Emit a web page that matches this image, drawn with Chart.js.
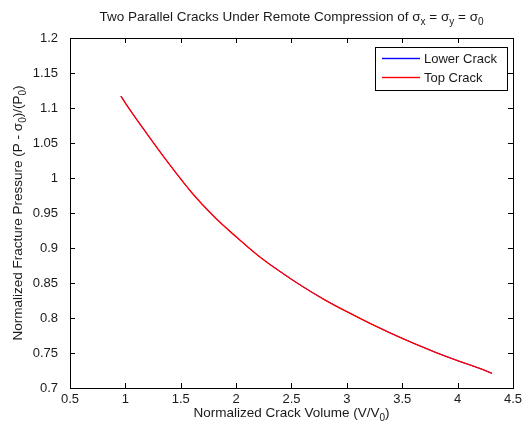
<!DOCTYPE html>
<html>
<head>
<meta charset="utf-8">
<script src="https://cdn.jsdelivr.net/npm/chart.js@4.4.1/dist/chart.umd.min.js"></script>
<style>
  html, body { margin: 0; padding: 0; background: #fff; }
</style>
</head>
<body>
<canvas id="crackChart" width="526" height="432"></canvas>
<script>
// values
const crackVolume = [0.96, 1.0, 1.2, 1.4, 1.6, 1.8, 2.0, 2.2, 2.4, 2.6, 2.8, 3.0, 3.2, 3.4, 3.6, 3.8, 4.0, 4.2, 4.31];
const lowerCrack  = [1.117, 1.107, 1.062, 1.019, 0.979, 0.945, 0.916, 0.889, 0.866, 0.845, 0.826, 0.809, 0.793, 0.778, 0.764, 0.751, 0.739, 0.728, 0.721];
const topCrack    = [1.117, 1.107, 1.062, 1.019, 0.979, 0.945, 0.916, 0.889, 0.866, 0.845, 0.826, 0.809, 0.793, 0.778, 0.764, 0.751, 0.739, 0.728, 0.721];
const seriesNames = ['Lower Crack', 'Top Crack'];
const seriesColors = ['#0000ff', '#ff0000'];
const xTicks = [0.5, 1, 1.5, 2, 2.5, 3, 3.5, 4, 4.5];
const yTicks = [0.7, 0.75, 0.8, 0.85, 0.9, 0.95, 1, 1.05, 1.1, 1.15, 1.2];

const FONT = '"Liberation Sans", Arial, Helvetica, sans-serif';
const TEXT = '#1a1a1a';

// draws text pieces with subscripts, centred on (x, y) baseline
function drawRich(ctx, parts, x, y, size) {
    const subSize = Math.round(size * 0.75);
    let total = 0;
    parts.forEach(p => {
        ctx.font = (p.sub ? subSize : size) + 'px ' + FONT;
        p.w = ctx.measureText(p.t).width;
        total += p.w;
    });
    let cx = x - total / 2;
    ctx.textAlign = 'left';
    ctx.textBaseline = 'alphabetic';
    parts.forEach(p => {
        ctx.font = (p.sub ? subSize : size) + 'px ' + FONT;
        ctx.fillText(p.t, cx, y + (p.sub ? 4 : 0));
        cx += p.w;
    });
}

const matlabLook = {
    id: 'matlabLook',
    afterDraw(chart) {
        const ctx = chart.ctx;
        const a = chart.chartArea;
        const xs = chart.scales.x, ys = chart.scales.y;
        ctx.save();
        ctx.strokeStyle = '#000';
        ctx.lineWidth = 1;
        // axes box
        ctx.strokeRect(Math.round(a.left) + 0.5, Math.round(a.top) + 0.5,
                       Math.round(a.right - a.left), Math.round(a.bottom - a.top));
        // inward ticks on all sides
        const tl = 5;
        ctx.beginPath();
        xTicks.forEach(v => {
            const px = Math.round(xs.getPixelForValue(v)) + 0.5;
            ctx.moveTo(px, a.bottom); ctx.lineTo(px, a.bottom - tl);
            ctx.moveTo(px, a.top); ctx.lineTo(px, a.top + tl);
        });
        yTicks.forEach(v => {
            const py = Math.round(ys.getPixelForValue(v)) + 0.5;
            ctx.moveTo(a.left, py); ctx.lineTo(a.left + tl, py);
            ctx.moveTo(a.right, py); ctx.lineTo(a.right - tl, py);
        });
        ctx.stroke();

        ctx.fillStyle = TEXT;
        // title
        drawRich(ctx, [
            { t: 'Two Parallel Cracks Under Remote Compression of \u03c3' }, { t: 'x', sub: true },
            { t: ' = \u03c3' }, { t: 'y', sub: true },
            { t: ' = \u03c3' }, { t: '0', sub: true }
        ], (a.left + a.right) / 2, 21, 13.5);
        // x axis title
        drawRich(ctx, [
            { t: 'Normalized Crack Volume (V/V' }, { t: '0', sub: true }, { t: ')' }
        ], (a.left + a.right) / 2, 417, 13.5);
        // y axis title
        ctx.save();
        ctx.translate(22, (a.top + a.bottom) / 2);
        ctx.rotate(-Math.PI / 2);
        drawRich(ctx, [
            { t: 'Normalized Fracture Pressure (P - \u03c3' }, { t: '0', sub: true },
            { t: ')/(P' }, { t: '0', sub: true }, { t: ')' }
        ], 0, 0, 13.5);
        ctx.restore();

        // legend box
        const lx = 375, ly = 47, lw = 132, lh = 43;
        ctx.fillStyle = '#fff';
        ctx.fillRect(lx, ly, lw, lh);
        ctx.strokeStyle = '#000';
        ctx.lineWidth = 1;
        ctx.strokeRect(lx + 0.5, ly + 0.5, lw, lh);
        seriesNames.forEach((name, i) => {
            const ry = ly + 11 + i * 19;
            ctx.fillStyle = seriesColors[i];
            ctx.fillRect(lx + 7, ry - 0.2, 38, 1.4);
            ctx.fillStyle = TEXT;
            ctx.font = '13px ' + FONT;
            ctx.textBaseline = 'middle';
            ctx.textAlign = 'left';
            ctx.fillText(name, lx + 49, ry + 1);
        });
        ctx.restore();
    }
};

const ctx = document.getElementById('crackChart').getContext('2d');
const chart = new Chart(ctx, {
    type: 'line',
    data: {
        datasets: [
            { label: seriesNames[0], data: crackVolume.map((v, i) => ({ x: v, y: lowerCrack[i] })),
              borderColor: seriesColors[0], borderWidth: 1, pointRadius: 0, order: 1,
              cubicInterpolationMode: 'monotone' },
            { label: seriesNames[1], data: crackVolume.map((v, i) => ({ x: v, y: topCrack[i] })),
              borderColor: seriesColors[1], borderWidth: 1.4, pointRadius: 0, order: 0,
              cubicInterpolationMode: 'monotone' }
        ]
    },
    options: {
        responsive: false,
        animation: false,
        layout: { padding: { top: 38, right: 13, left: 0, bottom: 0 } },
        plugins: { legend: { display: false }, title: { display: false }, tooltip: { enabled: false } },
        scales: {
            x: {
                type: 'linear', min: 0.5, max: 4.5,
                afterBuildTicks: s => { s.ticks = xTicks.map(v => ({ value: v })); },
                afterFit: s => { s.height = 44; },
                grid: { display: false, drawTicks: false },
                border: { display: false },
                ticks: { color: TEXT, font: { family: FONT, size: 13 }, padding: 4, maxRotation: 0,
                         callback: v => String(Math.round(v * 100) / 100) }
            },
            y: {
                type: 'linear', min: 0.7, max: 1.2,
                afterBuildTicks: s => { s.ticks = yTicks.map(v => ({ value: v })); },
                afterFit: s => { s.width = 70; },
                grid: { display: false, drawTicks: false },
                border: { display: false },
                ticks: { color: TEXT, font: { family: FONT, size: 13 }, padding: 12,
                         callback: v => String(Math.round(v * 100) / 100) }
            }
        }
    },
    plugins: [matlabLook]
});
</script>
</body>
</html>
